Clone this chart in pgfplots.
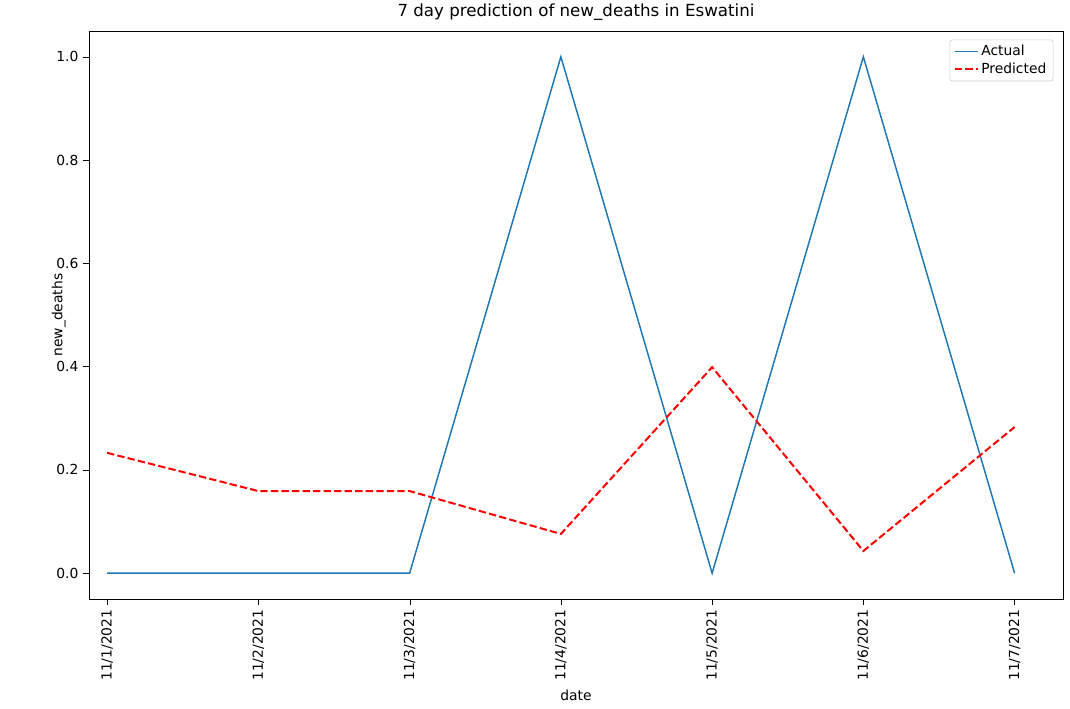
\documentclass[border=0pt]{standalone}
\usepackage{pgfplots}
\pgfplotsset{compat=1.18}
\usepackage{fontspec}
\setmainfont{DejaVu Sans}
\begin{document}
\fontsize{10.4pt}{12pt}\selectfont
\begin{tikzpicture}
\useasboundingbox (-66.75pt,-82.5pt) rectangle (735.75pt,449.25pt);
\begin{axis}[at={(0,0)},anchor=south west,scale only axis,width=730.5pt,height=426pt,
 xmin=-0.12,xmax=6.32,ymin=-0.05,ymax=1.05,
 axis lines*=box, xtick pos=bottom, ytick pos=left,
 xtick={0,...,6},xticklabels={11/1/2021,11/2/2021,11/3/2021,11/4/2021,11/5/2021,11/6/2021,11/7/2021},
 xticklabel style={rotate=90,anchor=east},
 ytick={0,0.2,0.4,0.6,0.8,1.0},
 yticklabel style={/pgf/number format/.cd,fixed,fixed zerofill,precision=1},
 /pgf/number format/assume math mode=true,
 tick align=outside,tick style={black},
 xlabel={date},ylabel={new\_deaths},
 ylabel style={yshift=-14pt},
 title={7 day prediction of new\_deaths in Eswatini},
 title style={font=\fontsize{12.5pt}{14pt}\selectfont,yshift=-2pt},
 legend style={at={(0.99,0.985)},anchor=north east,draw=black!20,rounded corners=2pt,font=\fontsize{10.4pt}{13pt}\selectfont},
 legend cell align=left]
\addplot[color={rgb,255:red,31;green,119;blue,180},line width=1.1pt] coordinates {(0,0)(1,0)(2,0)(3,1)(4,0)(5,1)(6,0)};
\addlegendentry{Actual}
\addplot[red,dash pattern=on 5.5pt off 2.4pt,line width=1.5pt] coordinates {(0,0.233)(1,0.159)(2,0.159)(3,0.076)(4,0.399)(5,0.043)(6,0.283)};
\addlegendentry{Predicted}
\end{axis}
\end{tikzpicture}
\end{document}
